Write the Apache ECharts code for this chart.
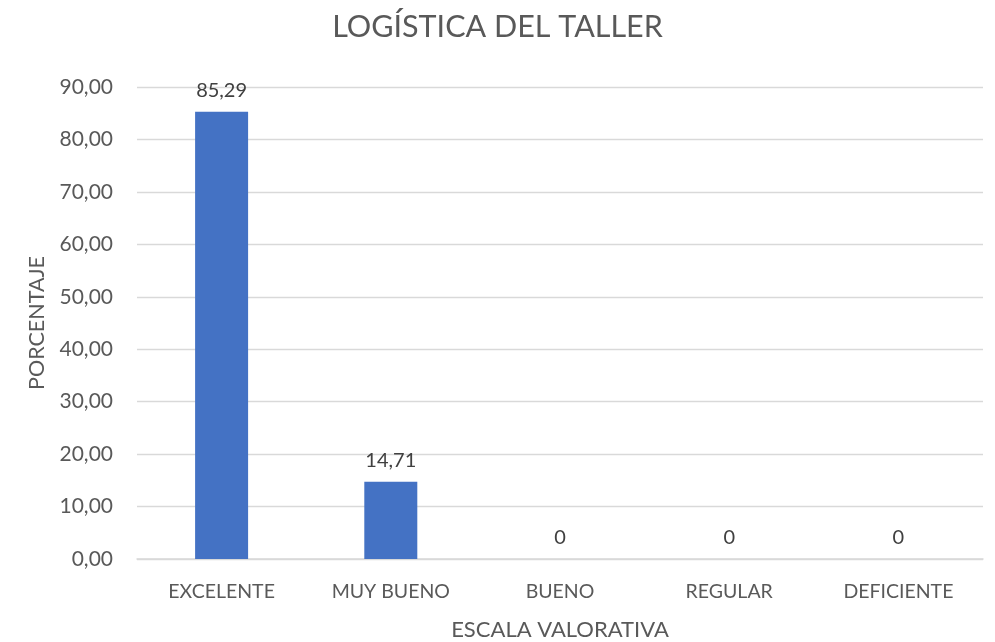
<!DOCTYPE html>
<html><head><meta charset="utf-8">
<script src="https://cdn.jsdelivr.net/npm/echarts@6/dist/echarts.min.js"></script>
<style>html,body{margin:0;padding:0;background:#fff}#c{width:995px;height:642px}</style>
</head><body><div id="c"></div>
<script>
const categories = ['EXCELENTE','MUY BUENO','BUENO','REGULAR','DEFICIENTE'];
const values = [85.29, 14.71, 0, 0, 0];
const yTicks = {min:0, max:90, interval:10};
const FONT = 'Lato';
const chart = echarts.init(document.getElementById('c'));
chart.setOption({
  animation:false,
  title:{text:'LOGÍSTICA DEL TALLER', left:'center', top:7,
    textStyle:{fontFamily:FONT, fontSize:30.5, fontWeight:'normal', color:'#595959'}},
  grid:{left:137, right:12, top:87, bottom:83, outerBoundsMode:'none', containLabel:false},
  xAxis:{type:'category', data:categories,
    name:'ESCALA VALORATIVA', nameLocation:'middle', nameGap:60,
    nameTextStyle:{fontFamily:FONT, fontSize:22, color:'#595959'},
    axisLine:{lineStyle:{color:'#d9d9d9', width:1.5}}, axisTick:{show:false},
    axisLabel:{fontFamily:FONT, fontSize:19.5, color:'#595959', margin:23}},
  yAxis:{type:'value', min:yTicks.min, max:yTicks.max, interval:yTicks.interval,
    name:'PORCENTAJE', nameLocation:'middle', nameGap:89, nameRotate:90,
    nameTextStyle:{fontFamily:FONT, fontSize:21.5, color:'#595959'},
    axisLine:{show:false}, axisTick:{show:false},
    splitLine:{lineStyle:{color:'#d9d9d9', width:1.3}},
    axisLabel:{fontFamily:FONT, fontSize:21, color:'#595959', margin:24,
      formatter:v=>v.toFixed(2).replace('.',',')}},
  series:[{type:'bar', data:values, barWidth:53, itemStyle:{color:'#4472C4'},
    label:{show:true, position:'top', distance:11, fontFamily:FONT, fontSize:20, color:'#404040',
      formatter:p=>p.value===0?'0':p.value.toFixed(2).replace('.',',')}}]
});
</script></body></html>
